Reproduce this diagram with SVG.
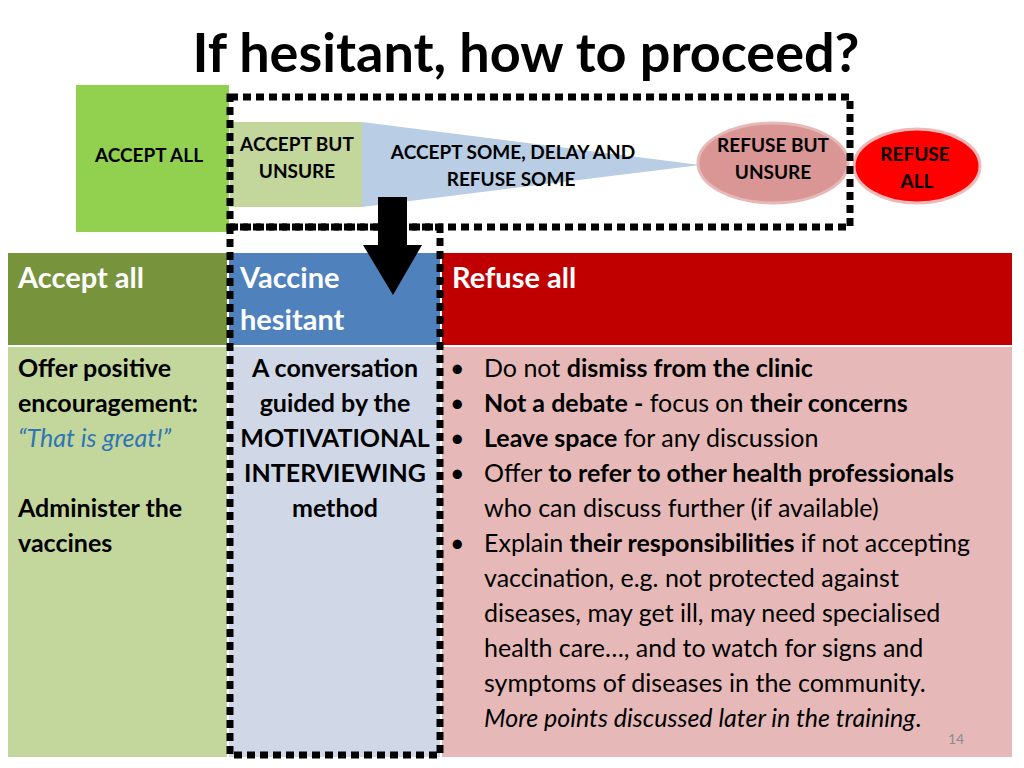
<svg xmlns="http://www.w3.org/2000/svg" width="1024" height="768" viewBox="0 0 1024 768">
<style>
text{font-family:Lato,"Open Sans","Liberation Sans",sans-serif}
.s{font-size:19px;font-weight:bold;fill:#000;text-anchor:middle}
.h{font-size:29px;font-weight:bold;fill:#fff}
.b{font-size:25px;fill:#000}
.bb{font-weight:bold}
.dot{fill:none;stroke:#000;stroke-width:7;stroke-dasharray:8 5}
</style>
<rect width="1024" height="768" fill="#fff"/>
<text x="526" y="72" font-size="54" font-weight="bold" text-anchor="middle">If hesitant, how to proceed?</text>
<g id="accept-all-top"><rect x="76" y="85" width="153" height="147" fill="#92d050"/><text class="s" x="149" y="162">ACCEPT ALL</text></g>
<g id="accept-unsure"><rect x="230" y="122" width="132" height="85" fill="#c3d69b"/><text class="s" x="297" y="151">ACCEPT BUT</text><text class="s" x="297" y="178">UNSURE</text></g>
<g id="accept-some"><polygon points="362,122 362,207 700,165" fill="#b9cde5"/><text class="s" x="513" y="159">ACCEPT SOME, DELAY AND</text><text class="s" x="511" y="186">REFUSE SOME</text></g>
<g id="refuse-unsure"><ellipse cx="773" cy="163" rx="75" ry="40" fill="#d99694" stroke="#e6b9b8" stroke-width="3"/><text class="s" x="773" y="152">REFUSE BUT</text><text class="s" x="773" y="179">UNSURE</text></g>
<g id="refuse-all-top"><ellipse cx="917" cy="166" rx="63" ry="37" fill="#ff0000" stroke="#f2b8b8" stroke-width="3"/><text class="s" x="915" y="161">REFUSE</text><text class="s" x="917" y="188">ALL</text></g>
<g id="col-accept"><rect x="8" y="253" width="219" height="92" fill="#77933c"/><rect x="8" y="347" width="219" height="410" fill="#c3d69b"/>
<text class="h" x="18" y="288">Accept all</text>
<text class="b bb" x="18" y="377">Offer positive</text><text class="b bb" x="18" y="412">encouragement:</text><text class="b" x="18" y="447" fill="#1f6fbf" font-style="italic" style="fill:#2e75b6">“That is great!”</text>
<text class="b bb" x="18" y="517">Administer the</text><text class="b bb" x="18" y="552">vaccines</text></g>
<g id="col-hesitant"><rect x="229" y="253" width="211" height="92" fill="#4f81bd"/><rect x="229" y="347" width="211" height="410" fill="#d0d8e8"/>
<text class="h" x="240" y="288">Vaccine</text><text class="h" x="240" y="330">hesitant</text>
<g class="b bb" text-anchor="middle"><text x="335" y="377">A conversation</text><text x="335" y="412">guided by the</text><text x="335" y="447">MOTIVATIONAL</text><text x="335" y="482">INTERVIEWING</text><text x="335" y="517">method</text></g></g>
<g id="col-refuse"><rect x="442" y="253" width="570" height="92" fill="#c00000"/><rect x="442" y="347" width="570" height="410" fill="#e6b9b8"/>
<text class="h" x="452" y="288">Refuse all</text>
<g class="b"><text x="450" y="377">•</text><text x="450" y="412">•</text><text x="450" y="447">•</text><text x="450" y="482">•</text><text x="450" y="552">•</text></g>
<g class="b">
<text x="484" y="377">Do not <tspan class="bb">dismiss from the clinic</tspan></text>
<text x="484" y="412"><tspan class="bb">Not a debate -</tspan> focus on <tspan class="bb">their concerns</tspan></text>
<text x="484" y="447"><tspan class="bb">Leave space</tspan> for any discussion</text>
<text x="484" y="482">Offer <tspan class="bb">to refer to other health professionals</tspan></text>
<text x="484" y="517">who can discuss further (if available)</text>
<text x="484" y="552">Explain <tspan class="bb">their responsibilities</tspan> if not accepting</text>
<text x="484" y="587">vaccination, e.g. not protected against</text>
<text x="484" y="622">diseases, may get ill, may need specialised</text>
<text x="484" y="657">health care…, and to watch for signs and</text>
<text x="484" y="692">symptoms of diseases in the community.</text>
<text x="484" y="727" font-style="italic">More points discussed later in the training<tspan font-style="normal">.</tspan></text></g>
<text x="956" y="744" font-size="14" fill="#8c8c8c" text-anchor="middle">14</text></g>
<g id="connectors">
<rect class="dot" x="230" y="97" width="620" height="130"/>
<rect class="dot" x="230" y="227" width="210" height="528"/>
<polygon points="378,197 407,197 407,245 422,245 393,295 363,245 378,245" fill="#000"/>
</g>
</svg>
